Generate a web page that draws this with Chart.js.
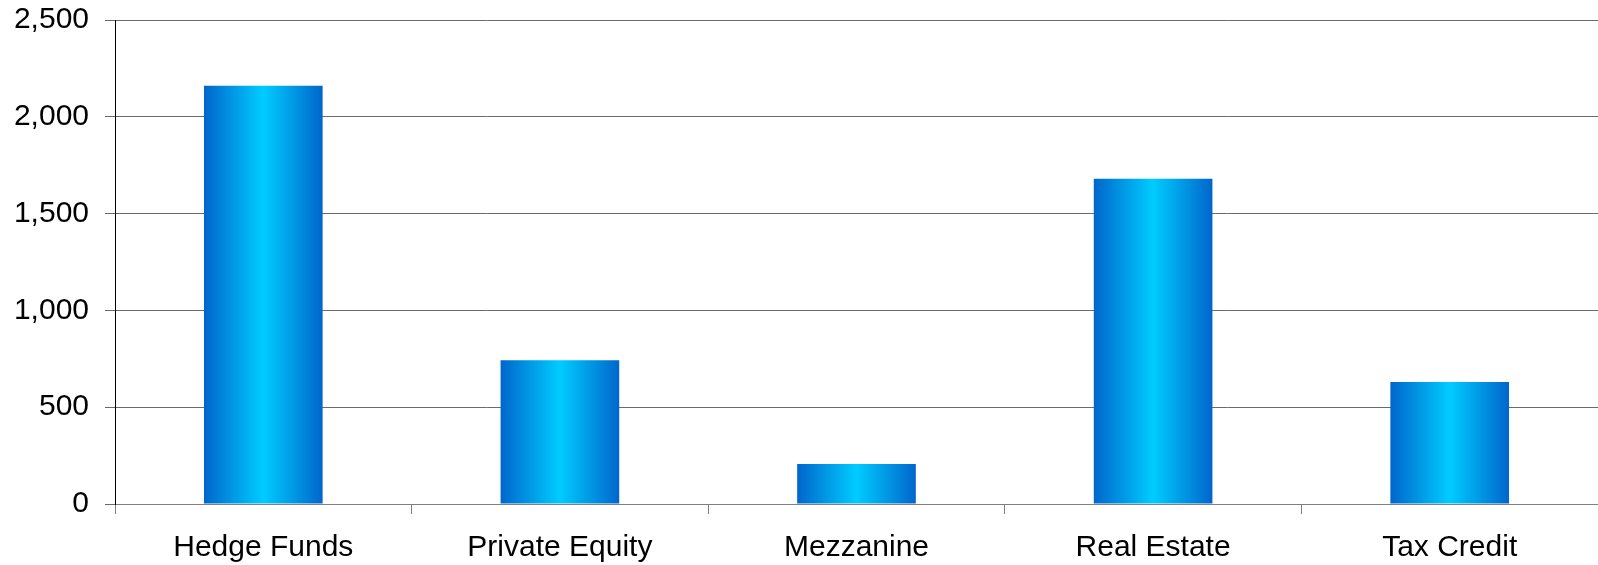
<!DOCTYPE html>
<html>
<head>
<meta charset="utf-8">
<script src="https://cdn.jsdelivr.net/npm/chart.js@4/dist/chart.umd.min.js"></script>
<style>
  html, body { margin: 0; padding: 0; background: #fff; }
  #wrap { width: 1598px; height: 565px; }
</style>
</head>
<body>
<div id="wrap"><canvas id="chart" width="1598" height="565"></canvas></div>
<script>
// values
categories = ["Hedge Funds", "Private Equity", "Mezzanine", "Real Estate", "Tax Credit"]
amounts = [2160, 743, 207, 1680, 630]
yMax = 2500
yStep = 500
barPct = 0.4

// horizontal blue gradient, one per bar
function barFill(context) {
  var chart = context.chart
  var xs = chart.scales.x
  if (!chart.chartArea || !xs) return "#00ccff"
  var cx = xs.getPixelForValue(context.dataIndex)
  var w = xs.width / categories.length * barPct
  var g = chart.ctx.createLinearGradient(cx - w / 2, 0, cx + w / 2, 0)
  g.addColorStop(0, "#0066cc")
  g.addColorStop(0.5, "#00ccff")
  g.addColorStop(1, "#0066cc")
  return g
}

Chart.defaults.font.family = "'Liberation Sans', Arial, sans-serif"
Chart.defaults.font.size = 30
Chart.defaults.color = "#000"

var chrt = document.getElementById("chart").getContext("2d")
var chartId = new Chart(chrt, {
  type: "bar",
  data: {
    labels: categories,
    datasets: [{
      data: amounts,
      backgroundColor: barFill,
      borderWidth: 0,
      barPercentage: barPct,
      categoryPercentage: 1
    }]
  },
  options: {
    responsive: false,
    animation: false,
    layout: { padding: 0 },
    plugins: { legend: { display: false }, tooltip: { enabled: false } },
    scales: {
      x: {
        grid: { drawOnChartArea: false, offset: true, tickLength: 10, color: "#808080" },
        border: { color: "#808080" },
        ticks: { padding: 16, maxRotation: 0 },
        afterFit(scale) { scale.height = 61 }
      },
      y: {
        min: 0,
        max: yMax,
        ticks: {
          stepSize: yStep,
          padding: 16,
          callback: v => v.toLocaleString("en-US")
        },
        grid: { tickLength: 10, color: "#6b6b6b" },
        border: { color: "#000" },
        afterFit(scale) {
          scale.width = 115
          scale.paddingTop = 20
          scale.paddingBottom = 0
        }
      }
    }
  }
})
chartId.update()
</script>
</body>
</html>
